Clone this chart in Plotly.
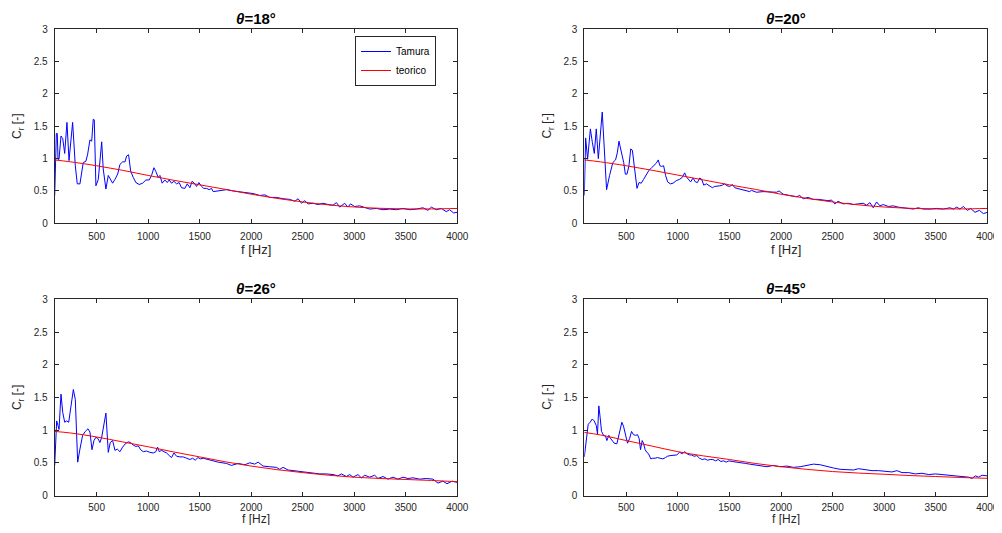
"""Coefficiente di riflessione C_r: misura Tamura vs curva teorica, 4 angoli."""
import plotly.graph_objects as go
from plotly.subplots import make_subplots

# --- theta = 18 deg -------------------------------------------------------
f_18 = [93, 109, 118, 125, 135, 154, 171, 190, 212, 232, 267, 293, 312, 338, 370, 396, 413, 435,
        452, 467, 477, 493, 516, 532, 549, 564, 590, 613, 636, 655, 678, 704, 726, 752, 775, 791,
        810, 830, 855, 881, 913, 946, 978, 1010, 1033, 1056, 1075, 1097, 1114, 1136, 1162, 1185,
        1204, 1227, 1250, 1276, 1301, 1324, 1356, 1379, 1405, 1427, 1453, 1470, 1492, 1518, 1540,
        1567, 1592, 1615, 1631, 1664, 1696, 1761, 1825, 1890, 1954, 2019, 2083, 2132, 2180, 2245,
        2309, 2374, 2423, 2455, 2488, 2520, 2552, 2600, 2649, 2697, 2746, 2794, 2827, 2859, 2907,
        2939, 2963, 3004, 3053, 3101, 3150, 3215, 3279, 3344, 3409, 3473, 3538, 3603, 3667, 3715,
        3748, 3796, 3845, 3893, 3925, 3964, 4000]
cr_18 = [0.43, 1.39, 1.39, 0.99, 0.99, 1.35, 1.31, 1.08, 1.56, 0.97, 1.56, 0.89, 0.61, 0.61, 0.94,
         0.96, 1.07, 1.29, 1.27, 1.61, 1.60, 0.58, 0.68, 0.94, 1.26, 0.84, 0.53, 0.74, 0.67, 0.62,
         0.68, 0.76, 0.91, 0.95, 0.95, 1.04, 1.06, 0.81, 0.71, 0.63, 0.60, 0.62, 0.67, 0.67, 0.74,
         0.86, 0.80, 0.71, 0.74, 0.62, 0.67, 0.63, 0.67, 0.62, 0.65, 0.61, 0.63, 0.55, 0.54, 0.61,
         0.55, 0.65, 0.61, 0.57, 0.63, 0.57, 0.54, 0.54, 0.52, 0.54, 0.49, 0.50, 0.50, 0.52, 0.50,
         0.49, 0.48, 0.46, 0.43, 0.44, 0.40, 0.40, 0.38, 0.37, 0.34, 0.38, 0.31, 0.35, 0.30, 0.31,
         0.29, 0.31, 0.29, 0.28, 0.32, 0.25, 0.31, 0.25, 0.30, 0.26, 0.27, 0.24, 0.22, 0.23, 0.21,
         0.22, 0.21, 0.23, 0.21, 0.22, 0.24, 0.20, 0.25, 0.21, 0.23, 0.18, 0.21, 0.16, 0.17]

# --- theta = 20 deg -------------------------------------------------------
f_20 = [93, 106, 125, 152, 171, 190, 209, 229, 267, 309, 338, 370, 396, 413, 429, 445, 462, 475,
        491, 507, 526, 543, 559, 575, 604, 623, 645, 668, 694, 720, 746, 772, 791, 810, 826, 843,
        862, 881, 901, 927, 953, 985, 1017, 1043, 1066, 1082, 1108, 1124, 1147, 1170, 1189, 1212,
        1231, 1251, 1277, 1309, 1335, 1357, 1380, 1406, 1432, 1454, 1477, 1503, 1529, 1552, 1574,
        1600, 1633, 1665, 1697, 1713, 1762, 1826, 1891, 1956, 1982, 2020, 2085, 2150, 2182, 2215,
        2263, 2312, 2360, 2409, 2457, 2490, 2522, 2554, 2603, 2651, 2700, 2748, 2797, 2829, 2862,
        2894, 2927, 2959, 2991, 3040, 3088, 3137, 3185, 3234, 3282, 3331, 3379, 3444, 3509, 3574,
        3638, 3671, 3703, 3735, 3768, 3807, 3839, 3881, 3923, 3962, 4000]
cr_20 = [0.43, 1.32, 0.99, 1.46, 1.25, 1.08, 1.46, 1.00, 1.72, 0.52, 0.74, 0.94, 0.98, 1.09, 1.27,
         1.15, 1.04, 0.94, 0.76, 0.76, 0.89, 1.15, 1.13, 0.89, 0.54, 0.63, 0.62, 0.68, 0.76, 0.82,
         0.86, 0.90, 0.93, 0.98, 0.89, 0.88, 0.89, 0.74, 0.64, 0.61, 0.62, 0.66, 0.68, 0.71, 0.78,
         0.72, 0.68, 0.64, 0.70, 0.64, 0.63, 0.70, 0.68, 0.59, 0.61, 0.58, 0.55, 0.57, 0.57, 0.58,
         0.59, 0.61, 0.58, 0.57, 0.60, 0.55, 0.54, 0.53, 0.52, 0.50, 0.49, 0.51, 0.48, 0.49, 0.48,
         0.48, 0.50, 0.45, 0.43, 0.41, 0.43, 0.38, 0.40, 0.37, 0.37, 0.36, 0.35, 0.36, 0.30, 0.34,
         0.30, 0.31, 0.29, 0.30, 0.31, 0.28, 0.32, 0.24, 0.33, 0.27, 0.29, 0.26, 0.27, 0.25, 0.24,
         0.23, 0.22, 0.24, 0.22, 0.22, 0.23, 0.22, 0.24, 0.22, 0.25, 0.22, 0.26, 0.20, 0.23, 0.17,
         0.20, 0.15, 0.17]

# --- theta = 26 deg -------------------------------------------------------
f_26 = [93, 112, 125, 135, 154, 171, 190, 209, 229, 248, 274, 293, 316, 338, 364, 390, 416, 435,
        455, 474, 493, 513, 532, 549, 568, 590, 613, 632, 655, 678, 700, 726, 752, 778, 807, 830,
        855, 881, 904, 927, 953, 985, 1017, 1049, 1075, 1091, 1108, 1130, 1153, 1179, 1205, 1227,
        1250, 1276, 1309, 1341, 1373, 1405, 1431, 1457, 1483, 1509, 1534, 1560, 1586, 1615, 1647,
        1680, 1760, 1808, 1873, 1938, 1986, 2035, 2067, 2115, 2180, 2245, 2277, 2309, 2358, 2406,
        2471, 2536, 2600, 2665, 2729, 2794, 2842, 2875, 2923, 2956, 2988, 3036, 3069, 3101, 3150,
        3198, 3230, 3279, 3327, 3376, 3424, 3473, 3521, 3570, 3635, 3700, 3764, 3813, 3860, 3900,
        3950, 4000]
cr_26 = [0.46, 1.14, 1.07, 1.01, 1.55, 1.27, 1.12, 1.14, 1.12, 1.32, 1.62, 1.47, 0.51, 0.71, 0.92,
         0.98, 1.02, 0.97, 0.70, 0.84, 0.89, 0.87, 0.81, 0.89, 1.07, 1.26, 0.66, 0.81, 0.84, 0.69,
         0.71, 0.67, 0.74, 0.79, 0.82, 0.81, 0.77, 0.75, 0.76, 0.70, 0.67, 0.68, 0.66, 0.65, 0.67,
         0.74, 0.67, 0.69, 0.67, 0.65, 0.61, 0.58, 0.65, 0.60, 0.59, 0.59, 0.57, 0.55, 0.57, 0.54,
         0.58, 0.56, 0.57, 0.56, 0.54, 0.54, 0.52, 0.51, 0.49, 0.46, 0.49, 0.47, 0.50, 0.48, 0.51,
         0.45, 0.44, 0.43, 0.40, 0.43, 0.39, 0.38, 0.37, 0.35, 0.34, 0.33, 0.33, 0.32, 0.30, 0.33,
         0.29, 0.32, 0.28, 0.32, 0.27, 0.31, 0.28, 0.31, 0.26, 0.29, 0.25, 0.28, 0.25, 0.28, 0.26,
         0.27, 0.25, 0.26, 0.25, 0.19, 0.22, 0.18, 0.22, 0.20]

# --- theta = 45 deg -------------------------------------------------------
f_45 = [93, 112, 131, 150, 170, 189, 209, 221, 234, 247, 260, 280, 299, 312, 331, 344, 364, 383,
        409, 428, 441, 457, 473, 493, 512, 532, 551, 570, 590, 609, 625, 638, 654, 667, 683, 699,
        715, 738, 757, 780, 802, 828, 854, 880, 899, 925, 958, 990, 1016, 1042, 1067, 1087, 1113,
        1132, 1158, 1184, 1210, 1236, 1262, 1288, 1314, 1339, 1365, 1391, 1417, 1443, 1469, 1495,
        1527, 1559, 1592, 1624, 1656, 1695, 1798, 1863, 1927, 1992, 2057, 2121, 2186, 2251, 2315,
        2380, 2445, 2509, 2574, 2639, 2703, 2752, 2817, 2882, 2946, 3011, 3076, 3124, 3173, 3238,
        3302, 3367, 3432, 3496, 3561, 3626, 3690, 3755, 3820, 3852, 3884, 3917, 3949, 4000]
cr_45 = [0.59, 0.87, 1.09, 1.12, 1.17, 1.14, 1.07, 0.94, 1.37, 1.19, 0.98, 0.92, 0.91, 0.84, 0.92,
         0.88, 0.84, 0.80, 0.79, 0.92, 1.04, 1.12, 1.06, 0.92, 0.80, 0.87, 0.98, 0.93, 0.92, 0.93,
         0.87, 0.70, 0.84, 0.80, 0.70, 0.66, 0.64, 0.56, 0.57, 0.57, 0.58, 0.57, 0.56, 0.58, 0.60,
         0.61, 0.61, 0.62, 0.66, 0.64, 0.67, 0.64, 0.62, 0.62, 0.60, 0.61, 0.57, 0.55, 0.56, 0.54,
         0.55, 0.55, 0.53, 0.55, 0.52, 0.53, 0.51, 0.53, 0.52, 0.51, 0.50, 0.50, 0.49, 0.48, 0.46,
         0.44, 0.46, 0.44, 0.45, 0.43, 0.44, 0.46, 0.48, 0.47, 0.44, 0.42, 0.40, 0.39, 0.39, 0.41,
         0.39, 0.38, 0.38, 0.37, 0.36, 0.38, 0.35, 0.35, 0.33, 0.34, 0.32, 0.33, 0.32, 0.30, 0.30,
         0.29, 0.28, 0.26, 0.30, 0.28, 0.31, 0.30]

# --- curve teoriche -------------------------------------------------------
f_teo = [93, 250, 500, 750, 1000, 1250, 1500, 1750, 2000, 2250, 2500, 2750, 3000, 3250, 3500, 3750, 4000]
teo_18 = [0.98, 0.95, 0.89, 0.82, 0.74, 0.665, 0.595, 0.525, 0.45, 0.385, 0.33, 0.285, 0.252, 0.232, 0.222, 0.222, 0.23]
teo_20 = [0.98, 0.95, 0.89, 0.82, 0.745, 0.67, 0.595, 0.525, 0.45, 0.385, 0.33, 0.285, 0.252, 0.232, 0.222, 0.222, 0.23]
teo_26 = [0.98, 0.955, 0.895, 0.82, 0.745, 0.665, 0.59, 0.515, 0.45, 0.395, 0.35, 0.31, 0.28, 0.26, 0.245, 0.23, 0.21]
teo_45 = [0.965, 0.925, 0.84, 0.755, 0.67, 0.605, 0.55, 0.49, 0.44, 0.40, 0.366, 0.343, 0.325, 0.305, 0.29, 0.275, 0.263]

titles = ["18°", "20°", "26°", "45°"]
x_ticks = [500, 1000, 1500, 2000, 2500, 3000, 3500, 4000]
y_ticks = [0, 0.5, 1, 1.5, 2, 2.5, 3]
y_ticktext = ["0", "0.5", "1", "1.5", "2", "2.5", "3"]

# the page body adds an 8 px margin: the figure starts at (8, 8) in the window.
# Width may run to the right edge, height must leave the bottom margin free.
PAGE_W, PAGE_H, BODY = 1002, 533, 8
W, H = PAGE_W - BODY, PAGE_H - 2 * BODY
FONT = "Liberation Sans, Arial, sans-serif"
AX_COL = "#262626"


def px(x):
    return (x - BODY) / W


def py(y):
    return 1 - (y - BODY) / H


# window-pixel boxes of the four axes (left, right, top, bottom)
boxes = [(54.7, 457.3, 29.3, 223.3), (584.3, 987.3, 29.3, 223.3),
         (54.7, 457.3, 299.3, 495.5), (584.3, 987.3, 299.3, 495.5)]
# bottom row: labels pulled up a little so "f [Hz]" stays inside the page
xlabel_gap = [26, 26, 23, 23]
xlabel_size = [13, 13, 12, 12]
xtick_standoff = [4, 4, 2, 2]

series = [(f_18, cr_18, teo_18), (f_20, cr_20, teo_20), (f_26, cr_26, teo_26), (f_45, cr_45, teo_45)]

fig = make_subplots(rows=2, cols=2)
annotations = []
for i, ((f, cr, teo), box, title) in enumerate(zip(series, boxes, titles)):
    assert len(f) == len(cr), (title, len(f), len(cr))
    row, col = i // 2 + 1, i % 2 + 1
    fig.add_trace(go.Scatter(x=f, y=cr, mode="lines", name="Tamura", showlegend=(i == 0),
                             line=dict(color="#0000ff", width=1)), row=row, col=col)
    fig.add_trace(go.Scatter(x=f_teo, y=teo, mode="lines", name="teorico", showlegend=(i == 0),
                             line=dict(color="#ff0000", width=1, shape="spline")), row=row, col=col)

    x0, x1, y0, y1 = box
    axis_style = dict(showline=True, linecolor=AX_COL, linewidth=1, mirror="ticks", ticks="inside",
                      ticklen=4, tickcolor=AX_COL, showgrid=False, zeroline=False, automargin=False,
                      ticklabeloverflow="allow", tickfont=dict(family=FONT, size=10, color=AX_COL))
    fig.update_xaxes(domain=[px(x0), px(x1)], range=[93, 4000], tickvals=x_ticks,
                     ticklabelstandoff=xtick_standoff[i], row=row, col=col, **axis_style)
    fig.update_yaxes(domain=[py(y1), py(y0)], range=[0, 3], tickvals=y_ticks, ticktext=y_ticktext,
                     ticklabelstandoff=4, row=row, col=col, **axis_style)

    cx = px((x0 + x1) / 2)
    common = dict(xref="paper", yref="paper", showarrow=False, xanchor="center", yanchor="middle")
    annotations.append(dict(text=f"<b><i>θ</i>={title}</b>", x=cx, y=py(y0 - 11),
                            font=dict(family=FONT, size=15, color="#000000"), **common))
    annotations.append(dict(text="f [Hz]", x=cx, y=py(y1 + xlabel_gap[i]),
                            font=dict(family=FONT, size=xlabel_size[i], color=AX_COL), **common))
    annotations.append(dict(text="C<sub>r</sub> [-]", x=px(x0 - 36), y=py((y0 + y1) / 2),
                            textangle=-90, font=dict(family=FONT, size=12, color=AX_COL), **common))

fig.update_layout(
    width=W,
    height=H,
    margin=dict(l=0, r=0, t=0, b=0, autoexpand=False),
    paper_bgcolor="white",
    plot_bgcolor="white",
    annotations=annotations,
    legend=dict(x=px(436), y=py(36), xanchor="right", yanchor="top", bgcolor="white",
                bordercolor=AX_COL, borderwidth=1, font=dict(family=FONT, size=10, color="#000000"),
                tracegroupgap=0),
    showlegend=True,
)

fig.write_html("out.html")
